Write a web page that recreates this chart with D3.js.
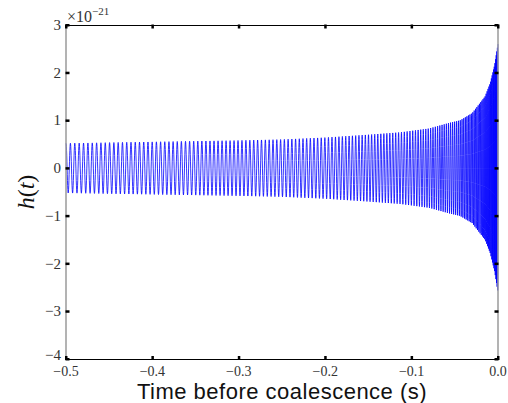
<!DOCTYPE html>
<html><head><meta charset="utf-8">
<script src="https://cdn.jsdelivr.net/npm/d3@7"></script>
<style>body{margin:0;background:#fff}svg{display:block}
.serif{font-family:"Liberation Serif","Times New Roman",Times,serif}
.sans{font-family:"Liberation Sans",Arial,Helvetica,sans-serif}
</style>
</head><body>
<script>
// Envelope of the strain (units of 1e-21)
const envTimes = [-0.5, -0.4, -0.3, -0.25, -0.2, -0.15, -0.113, -0.08, -0.056, -0.044, -0.03, -0.021, -0.015, -0.009, -0.004, 0];
const envAmp   = [0.52, 0.55, 0.58, 0.60, 0.64, 0.70, 0.75, 0.83, 0.95, 1.0, 1.15, 1.36, 1.5, 1.78, 2.15, 2.6];
// Oscillation frequency (Hz) read from cycle spacing
const freqTimes = [-0.5, -0.4, -0.3, -0.2, -0.1, -0.05, -0.02, -0.01, 0];
const freqHz    = [196, 205, 218, 240, 310, 430, 700, 1000, 1500];
const xTicks = [-0.5, -0.4, -0.3, -0.2, -0.1, 0.0];
const yTicks = [-4, -3, -2, -1, 0, 1, 2, 3];

const W = 508, H = 403;
const m = {l: 66, r: 10, t: 25, b: 44};
const svg = d3.select("body").append("svg").attr("width", W).attr("height", H);
const x = d3.scaleLinear().domain([-0.5, 0]).range([m.l, W - m.r]);
const y = d3.scaleLinear().domain([-4, 3]).range([H - m.b, m.t]);

const amp = d3.scaleLinear().domain(envTimes).range(envAmp);
const fr = d3.scaleLinear().domain(freqTimes).range(freqHz);

// build waveform
const pts = [];
let phase = 0, t = -0.5;
while (t <= 0) {
  pts.push([t, amp(t) * Math.cos(phase)]);
  const f = fr(t);
  const dt = 1 / (f * 24);
  phase += 2 * Math.PI * f * dt;
  t += dt;
}
svg.append("path").datum(pts)
  .attr("d", d3.line().x(d => x(d[0])).y(d => y(d[1])))
  .attr("fill", "none").attr("stroke", "#0000ff").attr("stroke-width", 0.8);

const x0 = x(-0.5), x1 = x(0), y0 = y(-4), y1 = y(3);
// spines
svg.append("line").attr("x1", x0).attr("x2", x0).attr("y1", y1).attr("y2", y0).attr("stroke", "#9a9a9a").attr("stroke-width", 1.5);
svg.append("line").attr("x1", x1).attr("x2", x1).attr("y1", y1).attr("y2", y0).attr("stroke", "#9a9a9a").attr("stroke-width", 1.5);
svg.append("line").attr("x1", x0).attr("x2", x1).attr("y1", y1 + 0.5).attr("y2", y1 + 0.5).attr("stroke", "#000").attr("stroke-width", 1);
svg.append("line").attr("x1", x0).attr("x2", x1).attr("y1", y0 + 0.5).attr("y2", y0 + 0.5).attr("stroke", "#000").attr("stroke-width", 1);

// ticks
const tk = svg.append("g").attr("fill", "#000");
yTicks.forEach(v => {
  tk.append("rect").attr("x", x0 - 0.5).attr("y", y(v) - 1).attr("width", 4).attr("height", 2.5);
  tk.append("rect").attr("x", x1 - 3.5).attr("y", y(v) - 1).attr("width", 4).attr("height", 2.5);
});
xTicks.forEach(v => {
  tk.append("rect").attr("x", x(v) - 1).attr("y", y1 - 0.5).attr("width", 2.5).attr("height", 4);
  tk.append("rect").attr("x", x(v) - 1).attr("y", y0 - 3).attr("width", 2.5).attr("height", 4);
});

const fmt = v => (v < 0 ? "\u2212" : "") + Math.abs(v);
svg.append("g").selectAll("text").data(yTicks).join("text")
  .attr("class", "serif")
  .attr("x", x0 - 5).attr("y", d => y(d) + (d === -4 ? 1 : 5))
  .attr("text-anchor", "end").attr("font-size", 15).attr("fill", "#333")
  .text(fmt);
svg.append("g").selectAll("text").data(xTicks).join("text")
  .attr("class", "serif")
  .attr("x", d => x(d)).attr("y", y0 + 17)
  .attr("text-anchor", "middle").attr("font-size", 14).attr("fill", "#333")
  .text(d => (d < 0 ? "\u2212" : "") + Math.abs(d).toFixed(1));

// exponent
const ex = svg.append("text").attr("class", "serif").attr("x", x0 + 1).attr("y", 22).attr("font-size", 16).attr("fill", "#333");
ex.append("tspan").text("\u00d710");
ex.append("tspan").attr("dy", -7).attr("font-size", 11).text("\u221221");

// axis labels
svg.append("text").attr("class", "sans").attr("x", (x0 + x1) / 2 - 0).attr("y", H - 4).attr("text-anchor", "middle")
  .attr("font-size", 22).attr("letter-spacing", 0.5).attr("fill", "#111")
  .text("Time before coalescence (s)");
const yl = svg.append("text").attr("class", "serif").attr("transform", `translate(34,${(y0 + y1) / 2}) rotate(-90)`)
  .attr("text-anchor", "middle").attr("font-size", 24).attr("fill", "#111");
yl.append("tspan").attr("font-style", "italic").text("h");
yl.append("tspan").text("(");
yl.append("tspan").attr("font-style", "italic").text("t");
yl.append("tspan").text(")");
</script>
</body></html>
